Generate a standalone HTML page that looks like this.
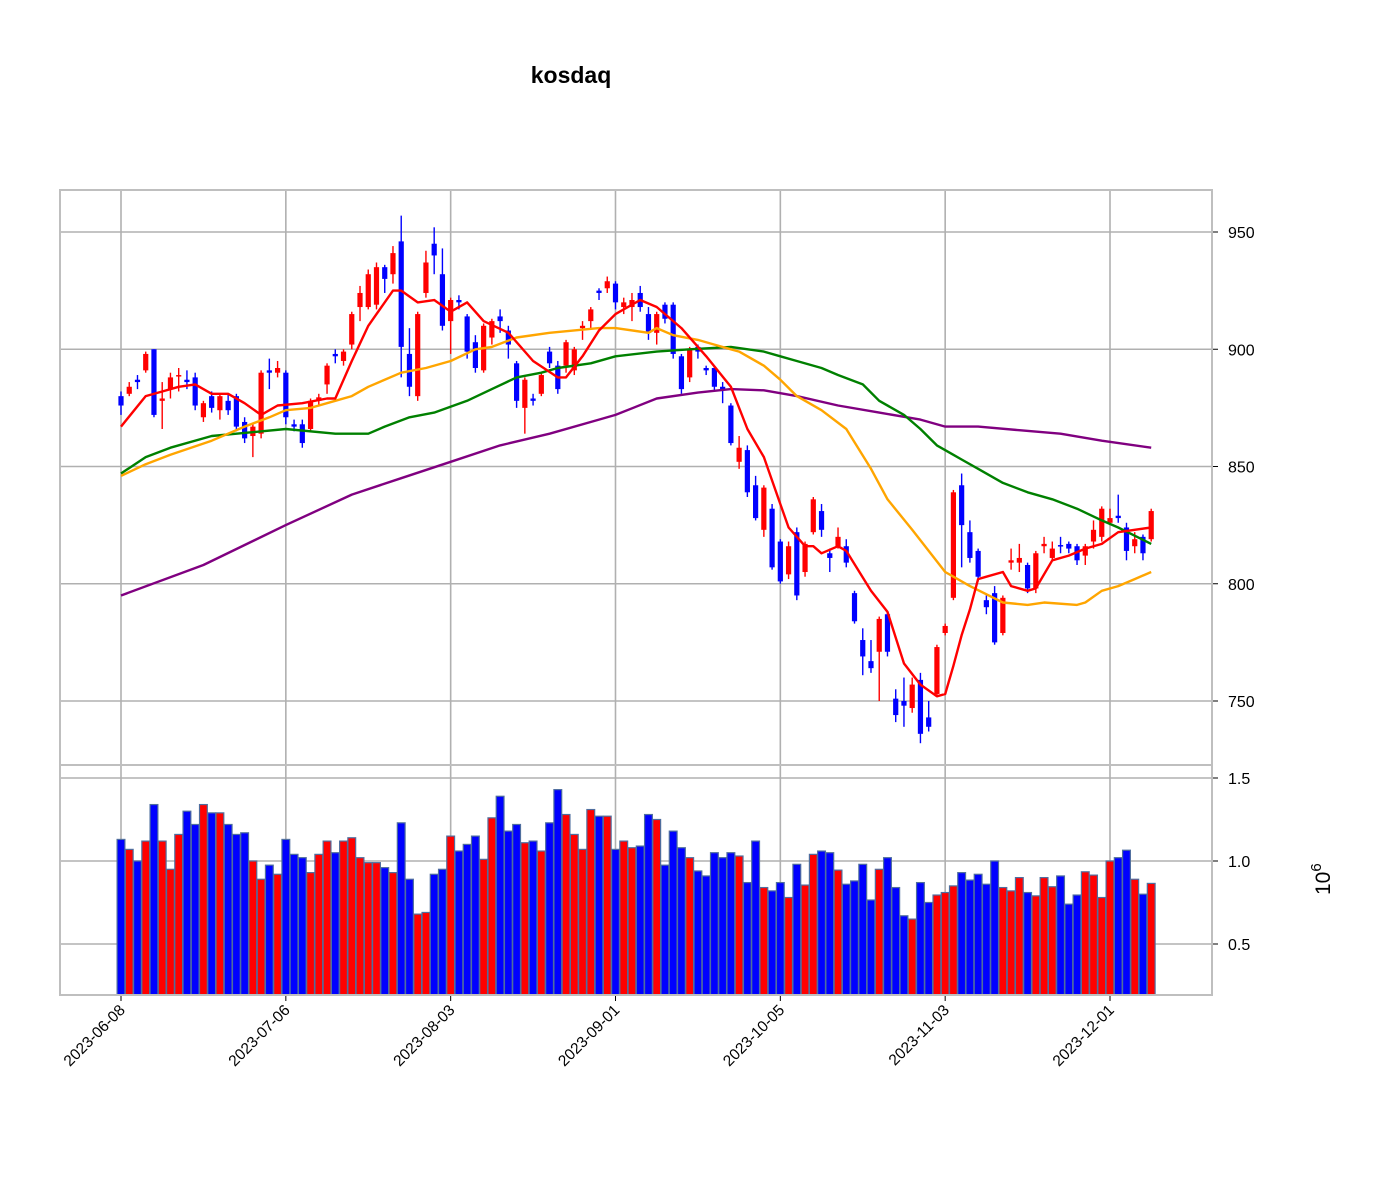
<!DOCTYPE html>
<html><head><meta charset="utf-8"><style>
html,body{margin:0;padding:0;background:#fff;}
svg{display:block;font-family:"Liberation Sans","DejaVu Sans",sans-serif;}
</style></head><body>
<svg id="chart" width="1397" height="1180" viewBox="0 0 1397 1180" xmlns="http://www.w3.org/2000/svg">
<text x="571" y="83" text-anchor="middle" font-size="23" font-weight="bold">kosdaq</text>
<g id="grid"></g>
<g id="vol"></g>
<g id="candles"></g>
<g id="mas"></g>
<g id="axes"></g>
<text x="0" y="0" font-size="21" transform="translate(1330,895) rotate(-90)">10<tspan font-size="15" dy="-9">6</tspan></text>
</svg>
<script>
const xTickLabels=["2023-06-08","2023-07-06","2023-08-03","2023-09-01","2023-10-05","2023-11-03","2023-12-01"];
const xTickIdx=[0,20,40,60,80,100,120];
const priceTicks=[750,800,850,900,950];
const volTicks=[0.5,1.0,1.5];
const opens=[880,881,887,891,900,878,883,888.5,887,888,871,880,874,878,880,869,863,864,891,890,890,868,868,866,878,885,898,895,902,918,918,919,935,932,946,898,880,924,945,932,912,921,914,903,891,905,914,908,894,875,879,881,899,893,893,891,909,912,925,926,928,918,918,924,915,907,919,919,897,888,901,892,892,884,876,852,857,842,823,832,818,804,822,805,822,831,813,816,816,796,776,767,771,787,751,750,747,759,743,753,779,794,842,822,814,793,796,779,809,809,808,798,816,811,816.5,817,816,812,818,820,826,829,824,816,820,819];
const closes=[876,884,886,898,872,879,888,889,886,876,877,875,880,874,867,862,867,890,890,892,871,867,860,878,879.5,893,897,899,915,924,932,935,930,941,901,884,915,937,940,910,921,920,899,892,910,912,912,902,878,887,878,889,894,883,903,900,910,917,924,929,920,920,921,918,907,915,913,898,883,900,899,891,884,883,860,858,839,828,841,807,801,816,795,817,836,823,811,820,809,784,769,764,785,771,744,748,757,736,739,773,782,839,825,811,803,790,775,794,810,811,798,813,817,815,816,815,810,816,823,832,828,828,814,819,813,831];
const highs=[882,886,889,899,900,886,890,892,891,890,878,882,881,881,881,871,868,891,896,895,891,870,870,879,881,894,900,900,916,927,934,937,936,944,957,909,916,942,952,943,922,923,915,906,911,913,917,910,895,888,881,890,901,895,904,901,912,918,926,931,929,922,924,927,918,916,920,920,898,901,902,893,893,886,877,863,859,846,842,834,819,818,824,818,837,834,815,824,819,797,781,776,786,788,755,760,760,762,750,774,783,840,847,827,815,795,799,795,815,817,809,814,820,818,820,818,817,817,827,833,832,838,826,822,821,832];
const lows=[872,880,883,890,871,866,879,882,883,874,869,873,870,872,865,860,854,862,883,888,868,865,858,865,876,881,894,893,900,912,917,917,924,928,888,880,878,922,932,908,898,917,896,890,890,902,907,896,875,864,876,880,892,881,890,889,904,909,921,924,917,915,912,916,904,902,911,896,881,886,896,889,882,877,859,849,837,827,820,806,800,802,793,803,821,820,805,815,807,783,761,762,750,769,741,739,745,732,737,752,778,793,807,809,801,787,774,778,806,805,796,796,813,810,813,813,808,808,815,818,825,826,810,813,810,818];
const volumes=[1.13,1.07,1.00,1.12,1.34,1.12,0.95,1.16,1.30,1.22,1.34,1.29,1.29,1.22,1.16,1.17,1.00,0.89,0.975,0.92,1.13,1.04,1.02,0.93,1.04,1.12,1.05,1.12,1.14,1.02,0.99,0.99,0.96,0.93,1.23,0.89,0.68,0.69,0.92,0.95,1.15,1.06,1.10,1.15,1.01,1.26,1.39,1.18,1.22,1.11,1.12,1.06,1.23,1.43,1.28,1.16,1.07,1.31,1.27,1.27,1.07,1.12,1.08,1.09,1.28,1.25,0.975,1.18,1.08,1.02,0.94,0.91,1.05,1.02,1.05,1.03,0.87,1.12,0.84,0.82,0.87,0.78,0.98,0.855,1.04,1.06,1.05,0.945,0.86,0.88,0.98,0.765,0.95,1.02,0.84,0.67,0.65,0.87,0.75,0.795,0.81,0.85,0.93,0.885,0.92,0.86,1.00,0.84,0.82,0.90,0.81,0.79,0.90,0.845,0.91,0.74,0.795,0.935,0.915,0.78,1.00,1.02,1.065,0.89,0.80,0.865];
const ma5Idx=[0,3,5,7,9,11,13,15,17,19,22,25,26,28,30,31,33,34,36,38,40,42,44,47,50,53,54,56,58,60,63,65,68,71,74,76,78,80,81,83,84,85,87,88,91,93,95,97,99,100,101,102,103,104,105,107,108,110,111,113,115,117,119,121,123,125];
const ma5Val=[867,880,882,884,885,881,881,877,872,876,877,879,879,895,910,915,925,925,920,921,916,920,912,907,895,888,888,897,908,915,921,918,909,897,884,866,854,834,824,816,816,813,816,814,797,788,766,757,752,753,765,778,789,802,803,805,799,797,798,810,812,815,817,822,823,824];
const ma20Idx=[0,3,6,11,15,18,20,23,26,28,30,34,37,40,43,45,48,52,58,60,64,65,67,70,72,74,75,78,80,82,85,88,91,93,96,98,100,103,107,110,112,116,117,119,121,123,125];
const ma20Val=[846,851,855,861,867,871,874,875,878,880,884,890,892,895,900,901,905,907,909,909,907,909,906,904,902,900,899,893,887,880,874,866,849,836,823,814,805,799,792,791,792,791,792,797,799,802,805];
const ma60Idx=[0,3,6,11,14,20,26,30,32,35,38,42,45,48,51,53,57,60,65,69,74,78,80,82,85,87,90,92,95,97,99,101,102,104,107,110,113,116,119,121,125];
const ma60Val=[847,854,858,863,864,866,864,864,867,871,873,878,883,888,890,892,894,897,899,900,901,899,897,895,892,889,885,878,872,866,859,855,853,849,843,839,836,832,827,824,817];
const ma120Idx=[0,10,20,28,34,40,46,52,58,60,65,70,74,78,82,87,92,97,100,104,109,114,119,125];
const ma120Val=[795,808,825,838,845,852,859,864,870,872,879,881.5,883,882.5,880,876,873,870,867,867,865.5,864,861,858];

const NS="http://www.w3.org/2000/svg";
const L=60,R=1212,T=190,MID=765,B=995;
const X=i=>121+i*(1110-121)/120;
const PY=p=>232+(950-p)*(117.25/50);
const VY=v=>861+(1.0-v)*166;
function mk(tag,attrs,parent){const e=document.createElementNS(NS,tag);for(const k in attrs)e.setAttribute(k,attrs[k]);parent.appendChild(e);return e;}
const grid=document.getElementById('grid'),volG=document.getElementById('vol'),cG=document.getElementById('candles'),mG=document.getElementById('mas'),axG=document.getElementById('axes');
const GC="#b0b0b0";
// grid
xTickIdx.forEach((ix,k)=>{
  const gl=mk('line',{x1:X(ix),x2:X(ix),y1:T,y2:B,stroke:GC,'stroke-width':1.6},grid);
  
  
  const tk=mk('line',{x1:X(ix),x2:X(ix),y1:B,y2:B+6,stroke:'#000','stroke-width':1},axG);
  
  
  const tx=X(ix)+5,ty=B+16;
  const t=mk('text',{x:tx,y:ty,'text-anchor':'end','font-size':15.5,transform:`rotate(-45 ${tx} ${ty})`},axG);
  t.textContent=xTickLabels[k];
  
  
});
priceTicks.forEach(p=>{
  const y=PY(p);
  const gl=mk('line',{x1:L,x2:R,y1:y,y2:y,stroke:GC,'stroke-width':1.6},grid);
  
  
  const tk=mk('line',{x1:R,x2:R+6,y1:y,y2:y,stroke:'#000','stroke-width':1},axG);
  
  
  const t=mk('text',{x:R+16,y:y+6,'font-size':16},axG);
  t.textContent=String(p);
  
  
});
volTicks.forEach(v=>{
  const y=VY(v);
  const gl=mk('line',{x1:L,x2:R,y1:y,y2:y,stroke:GC,'stroke-width':1.6},grid);
  
  
  const tk=mk('line',{x1:R,x2:R+6,y1:y,y2:y,stroke:'#000','stroke-width':1},axG);
  
  
  const t=mk('text',{x:R+16,y:y+6,'font-size':16},axG);
  t.textContent=v.toFixed(1);
  
  
});
// volume bars
volumes.forEach((v,i)=>{
  const up=closes[i]>=opens[i];
  const y=VY(v);
  const r=mk('rect',{x:X(i)-3.9,y:y,width:7.8,height:B-y,fill:up?'#ff0000':'#0000ff',stroke:'#4f6e9e','stroke-width':1.2},volG);
  
  
});
// candles
opens.forEach((o,i)=>{
  const c=closes[i],up=c>=o,col=up?'#ff0000':'#0000ff';
  const g=mk('g',{},cG);
  
  
  mk('line',{x1:X(i),x2:X(i),y1:PY(highs[i]),y2:PY(lows[i]),stroke:col,'stroke-width':1.4},g);
  const top=PY(Math.max(o,c)),bot=PY(Math.min(o,c));
  mk('rect',{x:X(i)-2.6,y:top,width:5.2,height:Math.max(bot-top,1.5),fill:col},g);
});
// moving averages
function maLine(idx,val,color,name){
  const pts=idx.map((ix,k)=>X(ix).toFixed(1)+','+PY(val[k]).toFixed(1)).join(' ');
  const p=mk('polyline',{points:pts,fill:'none',stroke:color,'stroke-width':2.4,'stroke-linejoin':'round'},mG);
  
  
}
maLine(ma120Idx,ma120Val,'#800080','ma120-line');
maLine(ma60Idx,ma60Val,'#008000','ma60-line');
maLine(ma20Idx,ma20Val,'#ffa500','ma20-line');
maLine(ma5Idx,ma5Val,'#ff0000','ma5-line');
// frames
const f1=mk('rect',{x:L,y:T,width:R-L,height:MID-T,fill:'none',stroke:'#bfbfbf','stroke-width':2},axG);


const f2=mk('rect',{x:L,y:MID,width:R-L,height:B-MID,fill:'none',stroke:'#bfbfbf','stroke-width':2},axG);


</script>
</body></html>
